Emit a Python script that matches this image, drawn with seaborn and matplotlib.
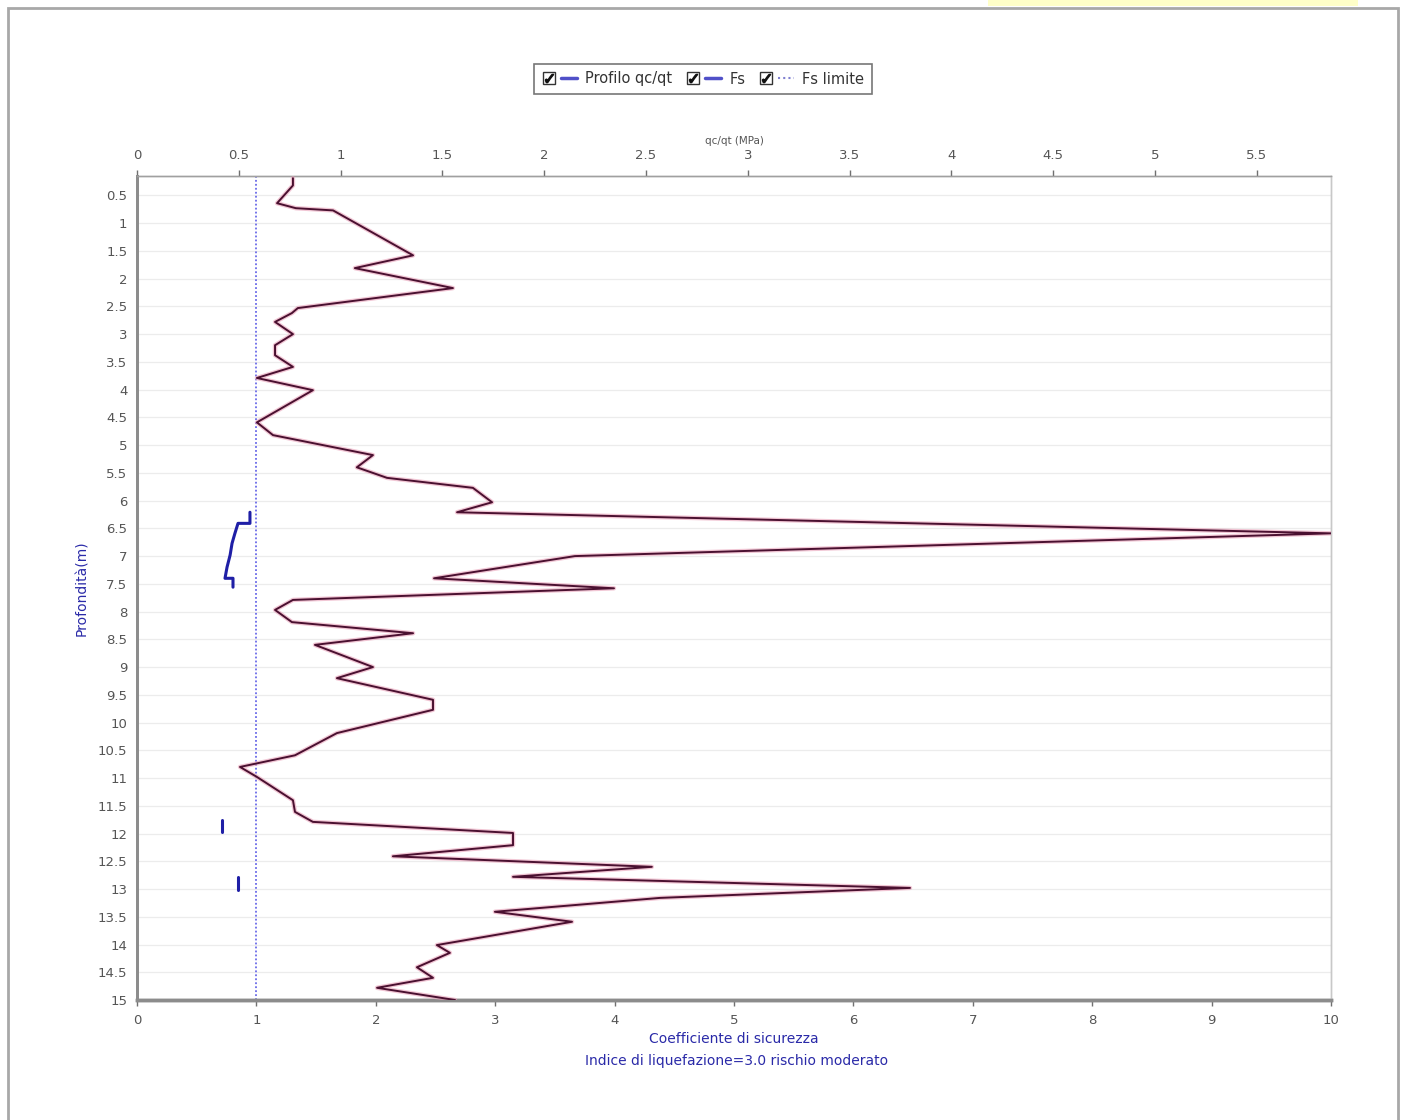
import numpy as np
import pandas as pd
import matplotlib
matplotlib.use('Agg')
import matplotlib.pyplot as plt
import seaborn as sns
from matplotlib.lines import Line2D
from matplotlib.patches import Rectangle
from matplotlib.legend_handler import HandlerTuple

# ---------------- data ----------------
depth_qc = [0.19, 0.32, 0.64, 0.73, 0.77, 1.58, 1.81, 2.17, 2.53, 2.62, 2.78, 3.00, 3.20, 3.38,
            3.59, 3.79, 4.01, 4.59, 4.82, 5.18, 5.40, 5.59, 5.77, 6.03, 6.21, 6.59, 7.00, 7.40,
            7.58, 7.79, 7.97, 8.19, 8.39, 8.60, 9.00, 9.20, 9.59, 9.77, 10.19, 10.59, 10.80,
            10.98, 11.40, 11.61, 11.79, 11.99, 12.21, 12.41, 12.60, 12.78, 12.98, 13.16, 13.41,
            13.59, 14.01, 14.15, 14.41, 14.60, 14.78, 15.00]
qc = [0.766, 0.766, 0.688, 0.78, 0.963, 1.356, 1.07, 1.552, 0.79, 0.761, 0.678, 0.766, 0.678, 0.678,
      0.766, 0.589, 0.864, 0.589, 0.668, 1.159, 1.08, 1.228, 1.65, 1.744, 1.572, 5.865, 2.151, 1.459,
      2.343, 0.766, 0.678, 0.761, 1.356, 0.874, 1.159, 0.982, 1.454, 1.454, 0.982, 0.776, 0.506,
      0.589, 0.766, 0.776, 0.864, 1.847, 1.847, 1.257, 2.529, 1.847, 3.797, 2.569, 1.758,
      2.137, 1.473, 1.537, 1.375, 1.454, 1.179, 1.562]

fs_depth = [6.21, 6.41, 6.41, 6.59, 6.77, 6.98, 7.20, 7.40, 7.40, 7.56,
            11.76, 11.97,
            12.78, 13.02]
fs_value = [0.946, 0.946, 0.846, 0.82, 0.796, 0.78, 0.754, 0.737, 0.804, 0.804,
            0.71, 0.71,
            0.846, 0.846]
fs_segment = [1, 1, 1, 1, 1, 1, 1, 1, 1, 1,
              2, 2,
              3, 3]

fs_limit = 1.0

depth_ticks = [0.5 * i for i in range(1, 31)]
fs_ticks = list(range(0, 11))
qc_ticks = [0.5 * i for i in range(0, 12)]

legend_labels = ['Profilo qc/qt', 'Fs', 'Fs limite']

# ---------------- style ----------------
sns.set_theme(style='white')
plt.rcParams['font.family'] = ['DejaVu Sans']

W, H = 1405, 1120
fig = plt.figure(figsize=(W / 100, H / 100), dpi=100)
fig.patch.set_facecolor('white')

# outer panel and yellow strip
fig.add_artist(Rectangle((8 / W, -0.01), (1398 - 8) / W, 1.01 - 8 / H, transform=fig.transFigure,
                         fill=False, edgecolor='#a8a8a8', lw=2))
fig.add_artist(Rectangle((988 / W, 1 - 6 / H), 370 / W, 6 / H, transform=fig.transFigure,
                         facecolor='#ffffc8', edgecolor='none'))

left, right, top, bottom = 137, 1331, 176, 1000
ax = fig.add_axes([left / W, 1 - bottom / H, (right - left) / W, (bottom - top) / H])
ax.set_facecolor('white')

# horizontal grid
for d in depth_ticks:
    ax.axhline(d, color='#ececec', lw=0.9, zorder=0)

# Fs limit
ax.axvline(fs_limit, color='#6a6ae8', lw=1.3, ls=(0, (1, 1.2)), zorder=2)

# Fs
fs_df = pd.DataFrame({'depth': fs_depth, 'fs': fs_value, 'seg': fs_segment})
sns.lineplot(data=fs_df, x='fs', y='depth', units='seg', estimator=None, sort=False,
             color='#1f1fa6', lw=2.2, ax=ax, legend=False, zorder=3)

ax.set_xlim(0, 10)
ax.set_ylim(15, 0.15)
ax.set_xticks(fs_ticks)
ax.set_xticklabels([f'{v:g}' for v in fs_ticks])
ax.set_yticks(depth_ticks)
ax.set_yticklabels([f'{v:g}' for v in depth_ticks])
ax.set_xlabel('Coefficiente di sicurezza', color='#2a2aa8', fontsize=10, labelpad=4)
ax.set_ylabel('Profondità(m)', color='#2a2aa8', fontsize=10, labelpad=6)
ax.tick_params(axis='both', colors='#707070', labelcolor='#555555', labelsize=9.5,
               direction='out', length=4, width=1)
ax.tick_params(axis='x', pad=6)
ax.tick_params(axis='y', pad=3)

# qc profile on top axis
ax2 = ax.twiny()
qc_df = pd.DataFrame({'depth': depth_qc, 'qc': qc})
sns.lineplot(data=qc_df, x='qc', y='depth', estimator=None, sort=False,
             color='#e8a0b8', lw=3.2, alpha=0.6, ax=ax2, legend=False, zorder=3)
sns.lineplot(data=qc_df, x='qc', y='depth', estimator=None, sort=False,
             color='#4a1030', lw=1.4, ax=ax2, legend=False, zorder=4)
ax2.set_xlim(0, 5.865)
ax2.set_xticks(qc_ticks)
ax2.set_xticklabels([f'{v:g}' for v in qc_ticks])
ax2.set_xlabel('qc/qt (MPa)', fontsize=7.5, color='#555555', labelpad=4)
ax2.set_ylabel('')
ax2.tick_params(axis='x', colors='#707070', labelcolor='#555555', labelsize=9.5,
                direction='out', length=4, width=1, pad=6)
ax.set_ylim(15, 0.15)

for a in (ax, ax2):
    a.spines['left'].set_color('#8c8c8c')
    a.spines['left'].set_linewidth(2)
    a.spines['bottom'].set_color('#8c8c8c')
    a.spines['bottom'].set_linewidth(2.5)
    a.spines['top'].set_color('#a0a0a0')
    a.spines['top'].set_linewidth(1)
    a.spines['right'].set_color('#c8c8c8')
    a.spines['right'].set_linewidth(1)

# subtitle
fig.text(737 / W, 1 - 1061 / H, 'Indice di liquefazione=3.0 rischio moderato',
         ha='center', va='center', color='#2a2aa8', fontsize=10)

# legend with checkbox-like handles
handler_map = {}

def checkbox():
    box = Line2D([], [], marker='s', ms=8, mfc='white', mec='#333333', mew=1, ls='None')
    chk = Line2D([], [], marker=r'$\checkmark$', ms=6, color='#111111', ls='None')
    t = (box, chk)
    handler_map[t] = HandlerTuple(ndivide=1, pad=0)
    return t

h1 = (checkbox(), Line2D([], [], color='#5050c8', lw=2.5))
h2 = (checkbox(), Line2D([], [], color='#5050c8', lw=2.5))
h3 = (checkbox(), Line2D([], [], color='#8080d0', lw=1.5, ls=(0, (1, 1.5))))
for h in (h1, h2, h3):
    handler_map[h] = HandlerTuple(ndivide=None, pad=0.3)
leg = fig.legend([h1, h2, h3], legend_labels, loc='center',
                 bbox_to_anchor=(703 / W, 1 - 79 / H), ncol=3, fontsize=10.5,
                 handler_map=handler_map,
                 handlelength=2.4, handletextpad=0.6, columnspacing=0.9,
                 frameon=True, fancybox=False, edgecolor='#555555',
                 borderpad=0.5, shadow=False)
leg.get_frame().set_linewidth(1.2)
for t in leg.get_texts():
    t.set_color('#333333')

fig.savefig('out.png', dpi=100, facecolor='white')
